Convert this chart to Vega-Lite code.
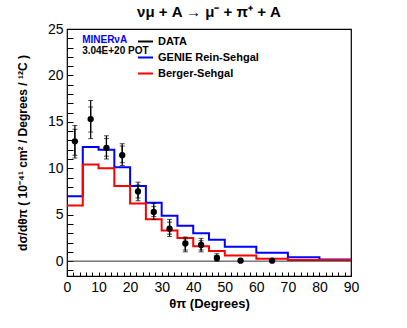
{
  "$schema": "https://vega.github.io/schema/vega-lite/v6.json",
  "width": 284,
  "height": 247,
  "autosize": {"type": "none"},
  "padding": {"left": 67, "top": 29, "right": 56, "bottom": 52},
  "background": "white",
  "title": {
    "text": "νμ + A → μ⁻ + π⁺ + A",
    "font": "Liberation Sans",
    "fontSize": 15,
    "fontWeight": "bold",
    "color": "black",
    "anchor": "middle",
    "offset": 2
  },
  "config": {
    "view": {"stroke": "black", "strokeWidth": 1.2},
    "font": "Liberation Sans",
    "axis": {"grid": false, "domain": false, "ticks": true, "zindex": 1, "tickWidth": 1, "tickOpacity": 1, "labelFont": "Liberation Sans", "labelFontSize": 14, "labelColor": "black", "titleColor": "black", "tickColor": "black", "labelFlush": false, "labelOverlap": false, "titleFont": "Liberation Sans", "titleFontWeight": "bold"}
  },
  "datasets": {
    "hist": [
      {"theta": 0, "xs": 7.0, "model": "GENIE Rein-Sehgal"},
      {"theta": 5, "xs": 12.3, "model": "GENIE Rein-Sehgal"},
      {"theta": 10, "xs": 12.0, "model": "GENIE Rein-Sehgal"},
      {"theta": 15, "xs": 10.1, "model": "GENIE Rein-Sehgal"},
      {"theta": 20, "xs": 8.1, "model": "GENIE Rein-Sehgal"},
      {"theta": 25, "xs": 6.3, "model": "GENIE Rein-Sehgal"},
      {"theta": 30, "xs": 4.9, "model": "GENIE Rein-Sehgal"},
      {"theta": 35, "xs": 3.8, "model": "GENIE Rein-Sehgal"},
      {"theta": 40, "xs": 3.0, "model": "GENIE Rein-Sehgal"},
      {"theta": 45, "xs": 2.3, "model": "GENIE Rein-Sehgal"},
      {"theta": 50, "xs": 1.55, "model": "GENIE Rein-Sehgal"},
      {"theta": 60, "xs": 0.9, "model": "GENIE Rein-Sehgal"},
      {"theta": 70, "xs": 0.42, "model": "GENIE Rein-Sehgal"},
      {"theta": 80, "xs": 0.18, "model": "GENIE Rein-Sehgal"},
      {"theta": 90, "xs": 0.18, "model": "GENIE Rein-Sehgal"},
      {"theta": 0, "xs": 6.0, "model": "Berger-Sehgal"},
      {"theta": 5, "xs": 10.4, "model": "Berger-Sehgal"},
      {"theta": 10, "xs": 10.0, "model": "Berger-Sehgal"},
      {"theta": 15, "xs": 8.1, "model": "Berger-Sehgal"},
      {"theta": 20, "xs": 6.2, "model": "Berger-Sehgal"},
      {"theta": 25, "xs": 4.5, "model": "Berger-Sehgal"},
      {"theta": 30, "xs": 3.3, "model": "Berger-Sehgal"},
      {"theta": 35, "xs": 2.5, "model": "Berger-Sehgal"},
      {"theta": 40, "xs": 1.6, "model": "Berger-Sehgal"},
      {"theta": 45, "xs": 1.1, "model": "Berger-Sehgal"},
      {"theta": 50, "xs": 0.6, "model": "Berger-Sehgal"},
      {"theta": 60, "xs": 0.25, "model": "Berger-Sehgal"},
      {"theta": 70, "xs": 0.13, "model": "Berger-Sehgal"},
      {"theta": 80, "xs": 0.13, "model": "Berger-Sehgal"},
      {"theta": 90, "xs": 0.13, "model": "Berger-Sehgal"}
    ],
    "pts": [
      {"theta": 2.5, "xs": 12.9, "stat_lo": 11.4, "stat_hi": 14.2, "tot_lo": 11.1, "tot_hi": 14.6},
      {"theta": 7.5, "xs": 15.3, "stat_lo": 13.9, "stat_hi": 16.6, "tot_lo": 13.2, "tot_hi": 17.3},
      {"theta": 12.5, "xs": 12.2, "stat_lo": 11.3, "stat_hi": 13.2, "tot_lo": 11.0, "tot_hi": 13.5},
      {"theta": 17.5, "xs": 11.4, "stat_lo": 10.6, "stat_hi": 12.4, "tot_lo": 10.3, "tot_hi": 12.65},
      {"theta": 22.5, "xs": 7.5, "stat_lo": 6.8, "stat_hi": 8.2, "tot_lo": 6.5, "tot_hi": 8.5},
      {"theta": 27.5, "xs": 5.3, "stat_lo": 4.8, "stat_hi": 5.9, "tot_lo": 4.5, "tot_hi": 6.2},
      {"theta": 32.5, "xs": 3.5, "stat_lo": 2.9, "stat_hi": 4.2, "tot_lo": 2.65, "tot_hi": 4.5},
      {"theta": 37.5, "xs": 1.9, "stat_lo": 1.2, "stat_hi": 2.4, "tot_lo": 1.0, "tot_hi": 2.6},
      {"theta": 42.5, "xs": 1.75, "stat_lo": 1.2, "stat_hi": 2.2, "tot_lo": 1.0, "tot_hi": 2.45},
      {"theta": 47.5, "xs": 0.35, "stat_lo": 0.12, "stat_hi": 0.6, "tot_lo": 0.0, "tot_hi": 0.8},
      {"theta": 55, "xs": 0.05, "stat_lo": 0.02, "stat_hi": 0.08, "tot_lo": 0.0, "tot_hi": 0.1},
      {"theta": 65, "xs": 0.05, "stat_lo": 0.02, "stat_hi": 0.08, "tot_lo": 0.0, "tot_hi": 0.1}
    ],
    "one": [{}]
  },
  "layer": [
    {
      "data": {"name": "hist"},
      "mark": {"type": "line", "interpolate": "step-after", "strokeWidth": 2, "clip": true},
      "encoding": {
        "x": {
          "field": "theta", "type": "quantitative", "title": "θπ (Degrees)",
          "scale": {"domain": [0, 90], "nice": false, "zero": false},
          "axis": {"titleFontSize": 13, "titlePadding": 3, "values": [0,2,4,6,8,10,12,14,16,18,20,22,24,26,28,30,32,34,36,38,40,42,44,46,48,50,52,54,56,58,60,62,64,66,68,70,72,74,76,78,80,82,84,86,88,90], "labelExpr": "datum.value % 10 === 0 ? datum.label : ''", "offset": -4, "tickSize": 4, "labelPadding": 4}
        },
        "y": {
          "field": "xs", "type": "quantitative", "title": "dσ/dθπ ( 10⁻⁴¹ cm² / Degrees / ¹²C )",
          "scale": {"domain": [-1.6, 25], "nice": false, "zero": false},
          "axis": {"titleFontSize": 12, "titlePadding": 18, "values": [-1,0,1,2,3,4,5,6,7,8,9,10,11,12,13,14,15,16,17,18,19,20,21,22,23,24,25], "labelExpr": "datum.value % 5 === 0 ? datum.label : ''", "offset": -6, "tickSize": 6, "labelPadding": 4}
        },
        "color": {
          "field": "model", "type": "nominal",
          "scale": {"domain": ["DATA", "GENIE Rein-Sehgal", "Berger-Sehgal"], "range": ["black", "#0000ff", "#ff0000"]},
          "legend": {
            "title": null,
            "orient": "none",
            "legendX": 70,
            "legendY": 4,
            "symbolType": "stroke",
            "symbolSize": 225,
            "symbolStrokeWidth": 2,
            "labelFont": "Liberation Sans",
            "labelFontSize": 11,
            "labelFontWeight": "bold",
            "labelColor": "black",
            "rowPadding": 2,
            "labelOffset": 4
          }
        }
      }
    },
    {
      "data": {"name": "one"},
      "mark": {"type": "rule", "color": "#333333", "strokeWidth": 1},
      "encoding": {
        "y": {"datum": 0, "type": "quantitative", "title": "dσ/dθπ ( 10⁻⁴¹ cm² / Degrees / ¹²C )",
          "axis": {"titleFontSize": 12, "titlePadding": 18, "values": [-1,0,1,2,3,4,5,6,7,8,9,10,11,12,13,14,15,16,17,18,19,20,21,22,23,24,25], "labelExpr": "datum.value % 5 === 0 ? datum.label : ''", "offset": -6, "tickSize": 6, "labelPadding": 4}}
      }
    },
    {
      "data": {"name": "pts"},
      "mark": {"type": "errorbar", "ticks": {"size": 5, "color": "black"}, "rule": {"color": "black", "strokeWidth": 1.2}},
      "encoding": {
        "x": {"field": "theta", "type": "quantitative", "title": "θπ (Degrees)",
          "axis": {"titleFontSize": 13, "titlePadding": 3, "values": [0,2,4,6,8,10,12,14,16,18,20,22,24,26,28,30,32,34,36,38,40,42,44,46,48,50,52,54,56,58,60,62,64,66,68,70,72,74,76,78,80,82,84,86,88,90], "labelExpr": "datum.value % 10 === 0 ? datum.label : ''", "offset": -4, "tickSize": 4, "labelPadding": 4}},
        "y": {"field": "tot_lo", "type": "quantitative", "title": "dσ/dθπ ( 10⁻⁴¹ cm² / Degrees / ¹²C )",
          "axis": {"titleFontSize": 12, "titlePadding": 18, "values": [-1,0,1,2,3,4,5,6,7,8,9,10,11,12,13,14,15,16,17,18,19,20,21,22,23,24,25], "labelExpr": "datum.value % 5 === 0 ? datum.label : ''", "offset": -6, "tickSize": 6, "labelPadding": 4}},
        "y2": {"field": "tot_hi"}
      }
    },
    {
      "data": {"name": "pts"},
      "mark": {"type": "errorbar", "ticks": {"size": 5, "color": "black"}, "rule": {"color": "black", "strokeWidth": 1.2}},
      "encoding": {
        "x": {"field": "theta", "type": "quantitative", "title": "θπ (Degrees)",
          "axis": {"titleFontSize": 13, "titlePadding": 3, "values": [0,2,4,6,8,10,12,14,16,18,20,22,24,26,28,30,32,34,36,38,40,42,44,46,48,50,52,54,56,58,60,62,64,66,68,70,72,74,76,78,80,82,84,86,88,90], "labelExpr": "datum.value % 10 === 0 ? datum.label : ''", "offset": -4, "tickSize": 4, "labelPadding": 4}},
        "y": {"field": "stat_lo", "type": "quantitative", "title": "dσ/dθπ ( 10⁻⁴¹ cm² / Degrees / ¹²C )",
          "axis": {"titleFontSize": 12, "titlePadding": 18, "values": [-1,0,1,2,3,4,5,6,7,8,9,10,11,12,13,14,15,16,17,18,19,20,21,22,23,24,25], "labelExpr": "datum.value % 5 === 0 ? datum.label : ''", "offset": -6, "tickSize": 6, "labelPadding": 4}},
        "y2": {"field": "stat_hi"}
      }
    },
    {
      "data": {"name": "pts"},
      "mark": {"type": "point", "filled": true, "size": 40, "opacity": 1},
      "encoding": {
        "x": {"field": "theta", "type": "quantitative", "title": "θπ (Degrees)",
          "axis": {"titleFontSize": 13, "titlePadding": 3, "values": [0,2,4,6,8,10,12,14,16,18,20,22,24,26,28,30,32,34,36,38,40,42,44,46,48,50,52,54,56,58,60,62,64,66,68,70,72,74,76,78,80,82,84,86,88,90], "labelExpr": "datum.value % 10 === 0 ? datum.label : ''", "offset": -4, "tickSize": 4, "labelPadding": 4}},
        "y": {"field": "xs", "type": "quantitative", "title": "dσ/dθπ ( 10⁻⁴¹ cm² / Degrees / ¹²C )",
          "axis": {"titleFontSize": 12, "titlePadding": 18, "values": [-1,0,1,2,3,4,5,6,7,8,9,10,11,12,13,14,15,16,17,18,19,20,21,22,23,24,25], "labelExpr": "datum.value % 5 === 0 ? datum.label : ''", "offset": -6, "tickSize": 6, "labelPadding": 4}},
        "color": {"datum": "DATA"}
      }
    },
    {
      "data": {"name": "one"},
      "mark": {"type": "text", "text": "MINERνA", "align": "left", "baseline": "middle", "font": "Liberation Sans", "fontSize": 10, "fontWeight": "bold", "color": "#0000ff"},
      "encoding": {
        "x": {"datum": 4.8, "type": "quantitative", "title": "θπ (Degrees)",
          "axis": {"titleFontSize": 13, "titlePadding": 3, "values": [0,2,4,6,8,10,12,14,16,18,20,22,24,26,28,30,32,34,36,38,40,42,44,46,48,50,52,54,56,58,60,62,64,66,68,70,72,74,76,78,80,82,84,86,88,90], "labelExpr": "datum.value % 10 === 0 ? datum.label : ''", "offset": -4, "tickSize": 4, "labelPadding": 4}},
        "y": {"datum": 23.8, "type": "quantitative", "title": "dσ/dθπ ( 10⁻⁴¹ cm² / Degrees / ¹²C )",
          "axis": {"titleFontSize": 12, "titlePadding": 18, "values": [-1,0,1,2,3,4,5,6,7,8,9,10,11,12,13,14,15,16,17,18,19,20,21,22,23,24,25], "labelExpr": "datum.value % 5 === 0 ? datum.label : ''", "offset": -6, "tickSize": 6, "labelPadding": 4}}
      }
    },
    {
      "data": {"name": "one"},
      "mark": {"type": "text", "text": "3.04E+20 POT", "align": "left", "baseline": "middle", "font": "Liberation Sans", "fontSize": 10, "fontWeight": "bold", "color": "black"},
      "encoding": {
        "x": {"datum": 4.8, "type": "quantitative", "title": "θπ (Degrees)",
          "axis": {"titleFontSize": 13, "titlePadding": 3, "values": [0,2,4,6,8,10,12,14,16,18,20,22,24,26,28,30,32,34,36,38,40,42,44,46,48,50,52,54,56,58,60,62,64,66,68,70,72,74,76,78,80,82,84,86,88,90], "labelExpr": "datum.value % 10 === 0 ? datum.label : ''", "offset": -4, "tickSize": 4, "labelPadding": 4}},
        "y": {"datum": 22.6, "type": "quantitative", "title": "dσ/dθπ ( 10⁻⁴¹ cm² / Degrees / ¹²C )",
          "axis": {"titleFontSize": 12, "titlePadding": 18, "values": [-1,0,1,2,3,4,5,6,7,8,9,10,11,12,13,14,15,16,17,18,19,20,21,22,23,24,25], "labelExpr": "datum.value % 5 === 0 ? datum.label : ''", "offset": -6, "tickSize": 6, "labelPadding": 4}}
      }
    }
  ]
}
